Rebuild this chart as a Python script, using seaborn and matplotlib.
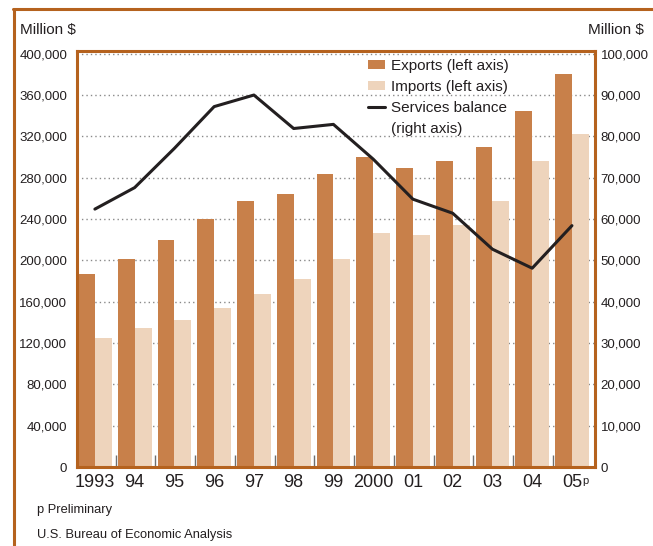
import numpy as np
import pandas as pd
import matplotlib
matplotlib.use("Agg")
import matplotlib.pyplot as plt
from matplotlib.patches import Patch
from matplotlib.lines import Line2D
import seaborn as sns

years = ["1993", "94", "95", "96", "97", "98", "99", "2000", "01", "02", "03", "04", "05"]
exports = [186800, 201300, 219700, 240000, 257400, 264200, 283600,
           300000, 289400, 296100, 309700, 344500, 380300]
imports = [124800, 134500, 142300, 153900, 167400, 181900, 201300,
           226500, 224500, 234200, 257400, 296100, 322300]
balance = [62400, 67600, 77100, 87200, 90000, 81900, 82900,
           74500, 64800, 61400, 52700, 48100, 58400]
left_ticks = [0, 40000, 80000, 120000, 160000, 200000, 240000, 280000, 320000, 360000, 400000]
right_ticks = [0, 10000, 20000, 30000, 40000, 50000, 60000, 70000, 80000, 90000, 100000]
series_names = ["Exports (left axis)", "Imports (left axis)"]

sns.set_style("white")
plt.rcParams["font.family"] = ["Liberation Sans", "DejaVu Sans"]

EXP = "#C8804A"
IMP = "#EED4BC"
BROWN = "#B5621E"
TXT = "#231F20"

df = pd.DataFrame({
    "year": years * 2,
    "value": exports + imports,
    "series": [series_names[0]] * len(years) + [series_names[1]] * len(years),
})

fig = plt.figure(figsize=(6.53, 5.46), dpi=100)
ax = fig.add_axes([77 / 653, 1 - 467 / 546, (595 - 77) / 653, (467 - 50.6) / 546])

sns.barplot(data=df, x="year", y="value", hue="series", order=years,
            hue_order=series_names, palette=[EXP, IMP], width=0.85, gap=0,
            saturation=1, ax=ax, legend=False, edgecolor="none", linewidth=0)

ax.set_xlim(-0.45, 12.58)
ax.set_ylim(0, 403000)
ax.set_yticks(left_ticks)
ax.set_yticklabels([f"{v:,}" for v in left_ticks], fontsize=9.5, color=TXT)
ax.tick_params(axis="y", length=0, pad=7)
ax.set_xticks(range(len(years)))
ax.set_xticklabels(years, fontsize=13, color=TXT)
ax.tick_params(axis="x", which="major", length=0, pad=5)
ax.set_xticks([i + 0.52 for i in range(len(years) - 1)], minor=True)
ax.tick_params(axis="x", which="minor", bottom=True, direction="in", length=9,
               width=1.0, color="#6f6f6f")
ax.set_xlabel("")
ax.set_ylabel("")
ax.set_axisbelow(True)
ax.yaxis.grid(True, linestyle=(0, (1, 2.2)), color="#8a8a8a", linewidth=1.0)
ax.xaxis.grid(False)
for s in ax.spines.values():
    s.set_visible(True)
    s.set_color(BROWN)
    s.set_linewidth(2.2)
    s.set_zorder(6)

ax2 = ax.twinx()
sns.lineplot(x=np.arange(len(years)), y=balance, ax=ax2, color=TXT, linewidth=2.2)
ax2.set_ylim(0, 100750)
ax2.set_yticks(right_ticks)
ax2.set_yticklabels([f"{v:,}" for v in right_ticks], fontsize=9.5, color=TXT)
ax2.tick_params(axis="y", length=0, pad=4)
ax2.set_ylabel("")
for s in ax2.spines.values():
    s.set_visible(False)

# superscript p for preliminary 2005
ax.text(12.27, -0.022, "p", transform=ax.get_xaxis_transform(), fontsize=8,
        color=TXT, ha="left", va="top")

handles = [Patch(facecolor=EXP, edgecolor="none"),
           Patch(facecolor=IMP, edgecolor="none"),
           Line2D([0], [0], color=TXT, linewidth=2.2)]
labels = series_names + ["Services balance"]
leg = fig.legend(handles, labels, loc="upper left", bbox_to_anchor=(368 / 653, 1 - 59 / 546),
                 frameon=False, fontsize=11, handlelength=1.1, handleheight=0.55,
                 handletextpad=0.4, labelspacing=0.47, borderpad=0, borderaxespad=0,
                 labelcolor=TXT)
fig.text(391 / 653, 1 - 129 / 546, "(right axis)", fontsize=11, color=TXT,
         ha="left", va="center")

fig.text(20 / 653, 1 - 30 / 546, "Million $", fontsize=11, color=TXT, ha="left", va="center")
fig.text(644 / 653, 1 - 30 / 546, "Million $", fontsize=11, color=TXT, ha="right", va="center")
fig.text(37 / 653, 1 - 510 / 546, "p Preliminary", fontsize=9.3, color=TXT, ha="left", va="center")
fig.text(37 / 653, 1 - 535 / 546, "U.S. Bureau of Economic Analysis", fontsize=9.3,
         color=TXT, ha="left", va="center")

# outer frame (left and top edges)
fig.add_artist(Line2D([14 / 653, 14 / 653], [0, 1 - 8.5 / 546], transform=fig.transFigure,
                      color=BROWN, linewidth=2.2))
fig.add_artist(Line2D([13 / 653, 1], [1 - 8.5 / 546, 1 - 8.5 / 546], transform=fig.transFigure,
                      color=BROWN, linewidth=2.2))

fig.savefig("out.png", dpi=100)
